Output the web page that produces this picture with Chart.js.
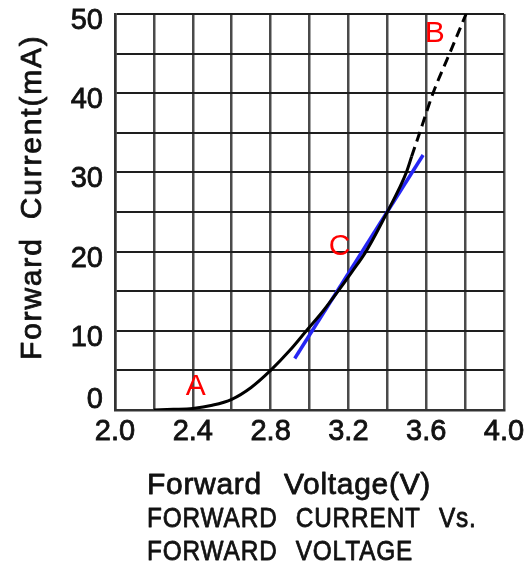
<!DOCTYPE html>
<html>
<head>
<meta charset="utf-8">
<script src="https://cdn.jsdelivr.net/npm/chart.js@4.4.1/dist/chart.umd.min.js"></script>
<style>
  html, body { margin: 0; padding: 0; background: #ffffff; }
  #wrap { width: 526px; height: 568px; }
</style>
</head>
<body>
<div id="wrap"><canvas id="c" width="526" height="568"></canvas></div>
<script>
// ---- data ----
const xTickLabels = ['2.0', '2.4', '2.8', '3.2', '3.6', '4.0'];
const yTickLabels = ['0', '10', '20', '30', '40', '50'];

const voltageMeasured = [2.2, 2.3, 2.4, 2.5, 2.6, 2.7, 2.8, 2.898, 2.984, 3.07, 3.147, 3.22, 3.29, 3.40, 3.498, 3.525];
const currentMeasured = [0, 0.08, 0.2, 0.6, 1.35, 2.85, 5.0, 7.5, 10, 12.5, 15, 17.5, 20, 25, 30, 32];

const voltageExtrapolated = [3.525, 3.58, 3.635, 3.72, 3.805];
const currentExtrapolated = [32, 36, 40, 45, 50];

const voltageTangent = [2.924, 3.584];
const currentTangent = [6.5, 32.2];

const markerLabels = ['A', 'B', 'C'];
const markerVoltage = [2.415, 3.644, 3.155];
const markerCurrent = [3.0, 47.5, 20.6];

const xTitle = 'Forward Voltage(V)';
const yTitle = 'Forward Current(mA)';
const captionLines = ['FORWARD CURRENT Vs.', 'FORWARD VOLTAGE'];

const toPoints = (xs, ys) => xs.map((x, i) => ({ x: x, y: ys[i] }));
const FONT = '"Liberation Sans", Arial, sans-serif';
const INK = '#111111';

function heavyText(ctx, text, x, y) {
  ctx.strokeStyle = ctx.fillStyle;
  ctx.lineWidth = 0.8;
  ctx.lineJoin = 'round';
  ctx.strokeText(text, x, y);
  ctx.fillText(text, x, y);
}

const textPlugin = {
  id: 'textPlugin',
  afterDraw(chart) {
    const { ctx, chartArea } = chart;
    const sx = chart.scales.x, sy = chart.scales.y;
    // marker letters
    ctx.save();
    ctx.fillStyle = '#ff0000';
    ctx.font = '30px ' + FONT;
    ctx.textAlign = 'center';
    ctx.textBaseline = 'middle';
    markerLabels.forEach((t, i) => {
      ctx.fillText(t, sx.getPixelForValue(markerVoltage[i]), sy.getPixelForValue(markerCurrent[i]));
    });
    ctx.restore();

    // x-axis title
    const x0 = chartArea.left + 32;
    ctx.save();
    ctx.fillStyle = INK;
    ctx.font = '30px ' + FONT;
    ctx.textAlign = 'left';
    ctx.textBaseline = 'alphabetic';
    ctx.letterSpacing = '0.7px';
    ctx.wordSpacing = '13px';
    heavyText(ctx, xTitle, x0, chartArea.bottom + 84);
    ctx.restore();

    // caption lines (condensed capitals)
    captionLines.forEach((line, i) => {
      ctx.save();
      ctx.fillStyle = INK;
      ctx.font = '28px ' + FONT;
      ctx.textAlign = 'left';
      ctx.textBaseline = 'alphabetic';
      ctx.letterSpacing = '1px';
      ctx.wordSpacing = '12px';
      ctx.translate(x0, chartArea.bottom + 117 + i * 33);
      ctx.scale(0.87, 1);
      heavyText(ctx, line, 0, 0);
      ctx.restore();
    });

    // y-axis title
    ctx.save();
    ctx.fillStyle = INK;
    ctx.font = '30px ' + FONT;
    ctx.textAlign = 'left';
    ctx.textBaseline = 'alphabetic';
    ctx.letterSpacing = '1.8px';
    ctx.wordSpacing = '8px';
    ctx.translate(41, chartArea.bottom - 50);
    ctx.rotate(-Math.PI / 2);
    heavyText(ctx, yTitle, 0, 0);
    ctx.restore();
  }
};

new Chart(document.getElementById('c'), {
  type: 'scatter',
  data: {
    datasets: [
      {
        label: 'Forward current',
        data: toPoints(voltageMeasured, currentMeasured),
        showLine: true,
        borderColor: '#000000',
        borderWidth: 3,
        pointRadius: 0,
        cubicInterpolationMode: 'monotone',
        fill: false
      },
      {
        label: 'Extrapolated',
        data: toPoints(voltageExtrapolated, currentExtrapolated),
        showLine: true,
        borderColor: '#000000',
        borderWidth: 3,
        borderDash: [10, 6],
        pointRadius: 0,
        cubicInterpolationMode: 'monotone',
        fill: false
      },
      {
        label: 'Tangent',
        data: toPoints(voltageTangent, currentTangent),
        showLine: true,
        borderColor: '#2626f4',
        borderWidth: 3.5,
        pointRadius: 0,
        fill: false
      }
    ]
  },
  options: {
    responsive: false,
    animation: false,
    events: [],
    layout: { padding: { left: 0, right: 22, top: 14, bottom: 0 } },
    plugins: {
      legend: { display: false },
      tooltip: { enabled: false },
      title: { display: false }
    },
    scales: {
      x: {
        type: 'linear',
        min: 2.0,
        max: 4.0,
        afterFit(scale) { scale.height = 158; },
        ticks: {
          stepSize: 0.2,
          autoSkip: false,
          maxRotation: 0,
          padding: 0,
          color: INK,
          textStrokeColor: INK,
          textStrokeWidth: 0.8,
          font: { family: FONT, size: 29, lineHeight: 1.55 },
          callback: (v, i) => (i % 2 === 0 ? xTickLabels[i / 2] : '')
        },
        grid: { color: '#4a4a4a', lineWidth: 2.5, drawTicks: false },
        border: { color: '#333333', width: 2.5 }
      },
      y: {
        type: 'linear',
        min: 0,
        max: 50,
        afterFit(scale) { scale.width = 115; },
        ticks: {
          stepSize: 5,
          autoSkip: false,
          padding: 12,
          labelOffset: 7,
          color: INK,
          textStrokeColor: INK,
          textStrokeWidth: 0.8,
          font: (c) => ({ family: FONT, size: 29, lineHeight: c.index === 0 ? 1.17 : 0.1 }),
          callback: (v, i) => (i === 0 ? [yTickLabels[0], ''] : (i % 2 === 0 ? yTickLabels[i / 2] : ''))
        },
        grid: { color: '#1e1e1e', lineWidth: 2, drawTicks: false },
        border: { color: '#333333', width: 2.5 }
      }
    }
  },
  plugins: [textPlugin]
});
</script>
</body>
</html>
